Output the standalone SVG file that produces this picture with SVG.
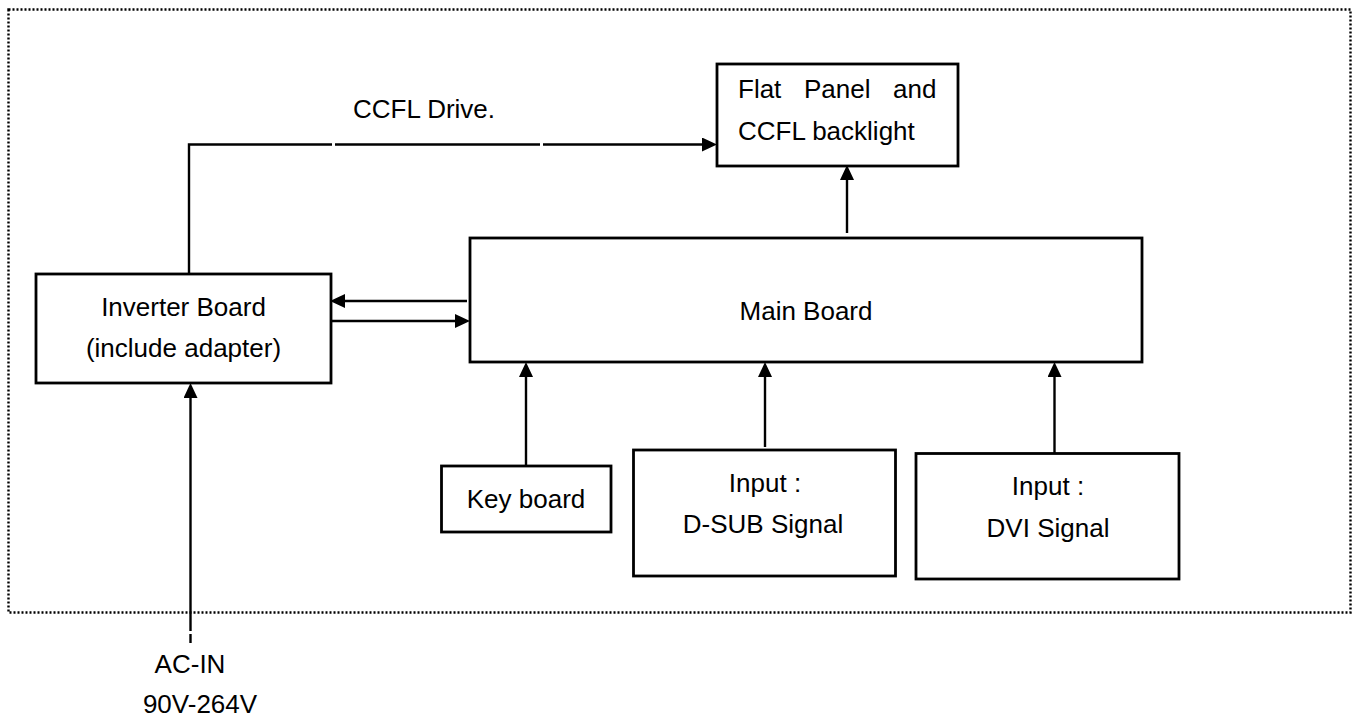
<svg xmlns="http://www.w3.org/2000/svg" width="1360" height="718" viewBox="0 0 1360 718">
<style>
.box{fill:#fff;stroke:#000;stroke-width:2.8}
.ln{fill:none;stroke:#000;stroke-width:2.4}
.t{font-family:"Liberation Sans",Arial,sans-serif;font-size:26px;fill:#000}
.c{text-anchor:middle}
</style>
<defs>
<marker id="ah" viewBox="0 0 15 14" refX="4" refY="7" markerWidth="15" markerHeight="14" markerUnits="userSpaceOnUse" orient="auto"><path d="M0,0 L15,7 L0,14 z" fill="#000"/></marker>
</defs>
<rect x="0" y="0" width="1360" height="718" fill="#fff"/>
<rect id="frame" x="8.5" y="9.5" width="1342" height="603" fill="none" stroke="#000" stroke-width="2.4" stroke-dasharray="2 2"/>
<g id="connectors">
<path class="ln" d="M189,274 V144.5 H332 M335,144.5 H540"/>
<path class="ln" d="M543,144.5 H706" marker-end="url(#ah)"/>
<path class="ln" d="M847,233 V176" marker-end="url(#ah)"/>
<path class="ln" d="M467,301 H341" marker-end="url(#ah)"/>
<path class="ln" d="M331,321 H459" marker-end="url(#ah)"/>
<path class="ln" d="M190.5,643 V634"/>
<path class="ln" d="M190.5,631 V394" marker-end="url(#ah)"/>
<path class="ln" d="M526,466 V373" marker-end="url(#ah)"/>
<path class="ln" d="M765,447 V373" marker-end="url(#ah)"/>
<path class="ln" d="M1054.5,453 V373" marker-end="url(#ah)"/>
<text class="t" x="353" y="118">CCFL Drive.</text>
<text class="t c" x="190" y="673">AC-IN</text>
<text class="t c" x="200" y="713">90V-264V</text>
</g>
<g id="flat-panel">
<rect class="box" x="717" y="64" width="241" height="102"/>
<text class="t" y="98"><tspan x="738">Flat</tspan><tspan x="804">Panel</tspan><tspan x="893">and</tspan></text>
<text class="t" x="738" y="140">CCFL backlight</text>
</g>
<g id="inverter">
<rect class="box" x="36" y="274" width="295" height="109"/>
<text class="t c" x="183.5" y="316">Inverter Board</text>
<text class="t c" x="183.5" y="357">(include adapter)</text>
</g>
<g id="main-board">
<rect class="box" x="470" y="238" width="672" height="124"/>
<text class="t c" x="806" y="320">Main Board</text>
</g>
<g id="keyboard">
<rect class="box" x="441.5" y="466" width="169.5" height="66"/>
<text class="t c" x="526" y="508">Key board</text>
</g>
<g id="dsub">
<rect class="box" x="633.5" y="450" width="262" height="126"/>
<text class="t c" x="765" y="492">Input :</text>
<text class="t c" x="763" y="533">D-SUB Signal</text>
</g>
<g id="dvi">
<rect class="box" x="916" y="453.5" width="263" height="125.5"/>
<text class="t c" x="1048" y="495">Input :</text>
<text class="t c" x="1048" y="537">DVI Signal</text>
</g>
</svg>
